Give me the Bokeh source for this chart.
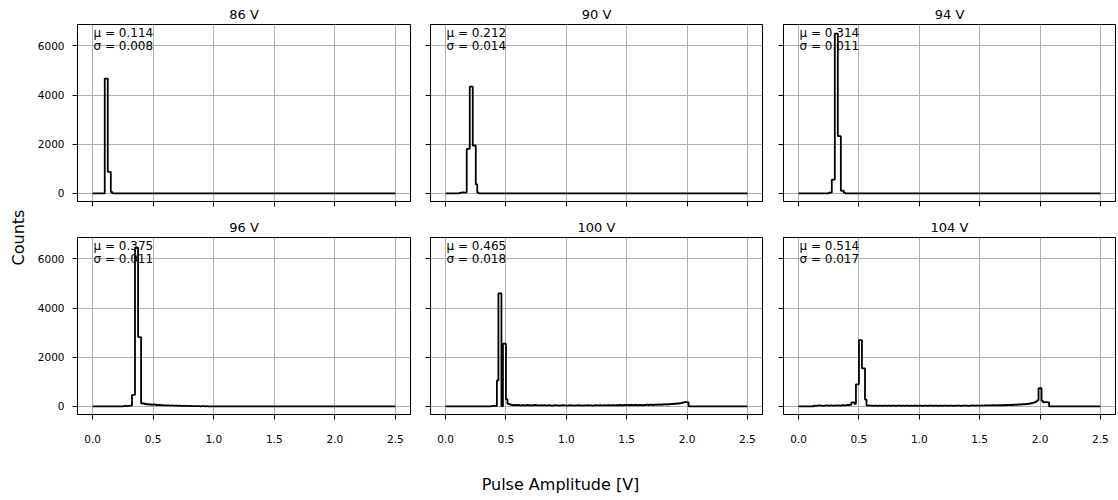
import math
import numpy as np
from bokeh.plotting import figure
from bokeh.layouts import row, column
from bokeh.models import (Range1d, NumeralTickFormatter, BasicTickFormatter, Label,
                          CustomLabelingPolicy)
from bokeh.embed import file_html
from bokeh.resources import INLINE

# ---------------- data ----------------
BIN_WIDTH = 0.0125
X_LO, X_HI = 0.0, 2.5

VOLTAGES = ["86 V", "90 V", "94 V", "96 V", "100 V", "104 V"]
MU = ["0.114", "0.212", "0.314", "0.375", "0.465", "0.514"]
SIGMA = ["0.008", "0.014", "0.011", "0.011", "0.018", "0.017"]

X_TICKS = [0.0, 0.5, 1.0, 1.5, 2.0, 2.5]
Y_TICKS = [0, 2000, 4000, 6000]

# counts per bin (bin width 0.0125 V), starting at the given amplitude; zero elsewhere
START_86 = 0.1
COUNTS_86 = [4670, 4670, 880, 880, 60]

START_90 = 0.1125
COUNTS_90 = [20, 30, 40, 30, 40, 1810, 1810, 4340, 4340, 1950, 1950, 370, 30]

START_94 = 0.25
COUNTS_94 = [30, 30, 560, 560, 6500, 6500, 2330, 2330, 110, 110, 20]

START_96 = 0.25
COUNTS_96 = [10, 20, 10, 20, 20, 30, 470, 470, 6460, 6460, 2820, 2820,
             130, 120, 110, 90, 90, 80, 80, 70, 80, 70, 60, 60, 60, 50, 50,
             40, 40, 40, 40, 30, 40, 30, 30, 30, 20, 30, 20, 20, 20, 20, 20,
             10, 20, 10, 10, 10, 10, 10, 10, 0, 10, 10, 0, 10]

START_100 = 0.375
COUNTS_100 = [10, 20, 20, 10, 1060, 4600, 4600, 10, 2550, 2550, 290, 110, 90, 70,
              60, 50, 60, 50, 60, 40, 50, 50,
              40, 50, 60, 40, 50, 40, 50, 60,
              50, 40, 40, 50, 40, 50, 40, 40,
              50, 40, 30, 40, 50, 40, 40, 30,
              40, 50, 40, 40, 30, 40, 50, 40,
              40, 30, 40, 40, 50, 40, 30, 40,
              40, 40, 50, 40, 40, 30, 40, 50,
              40, 40, 50, 40, 40, 50, 40, 50,
              50, 40, 50, 50, 40, 50, 50, 60,
              50, 50, 60, 50, 60, 50, 60, 60,
              50, 60, 60, 50, 60, 60, 50, 60,
              60, 70, 60, 70, 70, 60, 70, 70,
              70, 80, 70, 80, 80, 90, 80, 90,
              90, 100, 100, 110, 110, 120, 120, 130,
              140, 160, 180, 180, 170]

START_104 = 0.125
COUNTS_104 = [30, 20, 30, 40, 30, 30, 20, 30, 40, 30, 30, 40, 30, 30, 40, 30, 40, 30, 40, 50, 40, 50,
              60, 60, 70, 170, 170, 110, 900, 900, 2700, 2700, 1550, 1550, 280,
              30, 40, 30, 30, 20, 30, 30, 20,
              30, 30, 20, 30, 30, 20, 30, 30,
              20, 30, 30, 20, 30, 30, 30, 20,
              30, 20, 30, 30, 20, 30, 20, 30,
              30, 30, 20, 30, 30, 20, 30, 30,
              20, 30, 30, 30, 20, 30, 30, 20,
              30, 30, 20, 30, 30, 30, 20, 30,
              30, 20, 30, 30, 30, 30, 20, 30,
              30, 30, 30, 20, 30, 30, 40, 30,
              30, 40, 30, 30, 40, 30, 40, 40,
              40, 40, 40, 50, 40, 50, 40, 50,
              50, 50, 50, 60, 50, 60, 60, 60,
              60, 70, 70, 70, 80, 80, 80, 90,
              90, 100, 100, 110, 120, 130, 150, 170,
              200, 250,
              740, 740,
              230, 170, 180, 180, 170]

STARTS = [START_86, START_90, START_94, START_96, START_100, START_104]
COUNTS = [COUNTS_86, COUNTS_90, COUNTS_94, COUNTS_96, COUNTS_100, COUNTS_104]

# ---------------- layout / style ----------------
FONT = "DejaVu Sans"
FRAME_W = 333
FRAME_H = 177
YLAB_W = 30
TOP_ROW_H = 213      # 24 + 177 + 12
BOTTOM_ROW_H = 241   # 24 + 177 + 40
XLAB_H = 46

n_bins = int(round((X_HI - X_LO) / BIN_WIDTH))
edges = np.linspace(X_LO, X_HI, n_bins + 1)

xr = Range1d(-0.125, 2.625)
yr = Range1d(-327, 6870)

hide_labels = CustomLabelingPolicy(code="return []")


def full_counts(start, counts):
    arr = np.zeros(n_bins)
    i0 = int(round((start - X_LO) / BIN_WIDTH))
    arr[i0:i0 + len(counts)] = counts
    return arr


def make_panel(i):
    r, c = divmod(i, 3)
    left = 47 if c == 0 else 10
    right = 2 if c == 2 else (9 if c == 0 else 10)
    top = 24
    bottom = (TOP_ROW_H if r == 0 else BOTTOM_ROW_H) - top - FRAME_H
    p = figure(width=left + FRAME_W + right, height=top + FRAME_H + bottom,
               x_range=xr, y_range=yr, output_backend="svg", toolbar_location=None,
               min_border_left=left, min_border_right=right,
               min_border_top=top, min_border_bottom=bottom,
               title=VOLTAGES[i])
    p.title.align = "center"
    p.title.text_font = FONT
    p.title.text_font_size = "13px"
    p.title.text_font_style = "normal"
    p.title.text_color = "black"
    p.title.standoff = 6

    p.background_fill_color = "white"
    p.border_fill_color = "white"
    p.outline_line_color = "black"
    p.outline_line_width = 1
    p.outline_line_alpha = 1

    p.xaxis.ticker = X_TICKS
    p.yaxis.ticker = Y_TICKS
    p.xaxis.formatter = NumeralTickFormatter(format="0.0")
    p.yaxis.formatter = BasicTickFormatter(use_scientific=False)
    for ax in p.axis:
        ax.major_tick_in = 0
        ax.major_tick_out = 5
        ax.minor_tick_line_color = None
        ax.axis_line_color = "black"
        ax.major_tick_line_color = "black"
        ax.major_label_text_font = FONT
        ax.major_label_text_font_size = "10.5px"
        ax.major_label_text_color = "black"
    p.yaxis.major_label_standoff = 8
    p.xaxis.major_label_standoff = 15
    if r == 0:
        p.xaxis.major_label_policy = hide_labels
        p.xaxis.major_label_text_font_size = "1px"
        p.xaxis.major_label_standoff = 0
    if c > 0:
        p.yaxis.major_label_policy = hide_labels
        p.yaxis.major_label_text_font_size = "1px"
        p.yaxis.major_label_standoff = 0

    p.xgrid.grid_line_color = "#b0b0b0"
    p.ygrid.grid_line_color = "#b0b0b0"
    p.xgrid.grid_line_width = 1
    p.ygrid.grid_line_width = 1

    counts = full_counts(STARTS[i], COUNTS[i])
    xs = np.concatenate([[edges[0]], edges])
    ys = np.concatenate([[0.0], counts, [0.0]])
    p.step(x=xs, y=ys, mode="after", line_color="black", line_width=1.8)

    p.add_layout(Label(x=16, y=FRAME_H - 1, x_units="screen", y_units="screen",
                       text="μ = " + MU[i], text_align="left", text_baseline="top",
                       text_font=FONT, text_font_size="12px", text_color="black"))
    p.add_layout(Label(x=16, y=FRAME_H - 14, x_units="screen", y_units="screen",
                       text="σ = " + SIGMA[i], text_align="left", text_baseline="top",
                       text_font=FONT, text_font_size="12px", text_color="black"))
    return p


panels = [make_panel(i) for i in range(6)]
GRID_W = sum(p.width for p in panels[:3])
TOTAL_W = YLAB_W + GRID_W


def blank_fig(w, h):
    f = figure(width=w, height=h, x_range=Range1d(0, w), y_range=Range1d(0, h),
               output_backend="svg", toolbar_location=None, min_border=0,
               x_axis_location=None, y_axis_location=None)
    f.outline_line_color = None
    f.grid.visible = False
    f.background_fill_color = "white"
    f.border_fill_color = "white"
    return f


ylab_h = TOP_ROW_H + BOTTOM_ROW_H
ylab = blank_fig(YLAB_W, ylab_h)
ylab.add_layout(Label(x=18, y=ylab_h - 237, text="Counts", angle=math.pi / 2,
                      text_align="center", text_baseline="middle",
                      text_font=FONT, text_font_size="16px", text_color="black"))

xlab = blank_fig(TOTAL_W, XLAB_H)
xlab.add_layout(Label(x=560, y=XLAB_H - (484 - ylab_h), text="Pulse Amplitude [V]",
                      text_align="center", text_baseline="middle",
                      text_font=FONT, text_font_size="16px", text_color="black"))

layout = column(row(ylab, column(row(*panels[:3]), row(*panels[3:]))), xlab)

open("out.html", "w").write(file_html(layout, INLINE))
